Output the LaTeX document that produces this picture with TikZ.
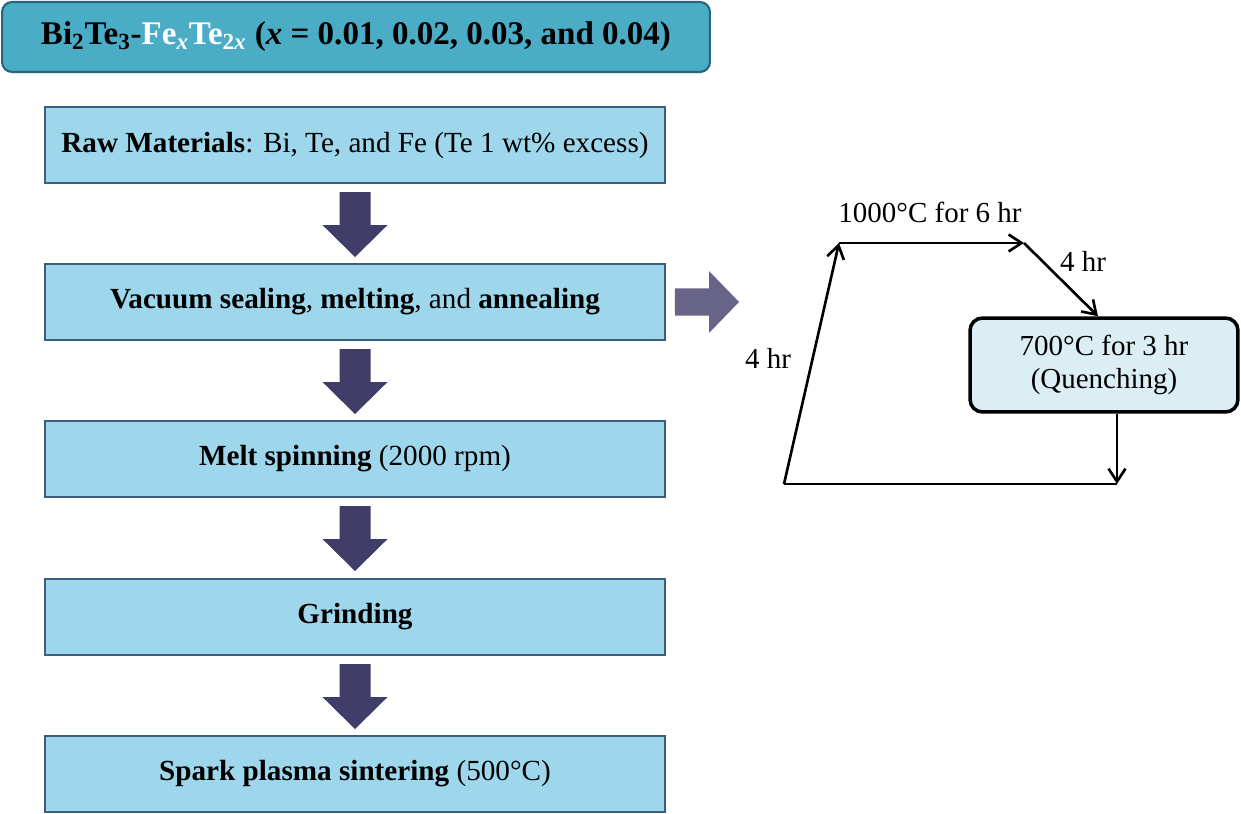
\documentclass[tikz,border=0pt]{standalone}
\usepackage{fontspec}
\setmainfont{Liberation Serif}
\usetikzlibrary{arrows.meta}

\definecolor{titleteal}{RGB}{75,172,198}
\definecolor{titleedge}{RGB}{40,100,125}
\definecolor{boxblue}{RGB}{158,214,236}
\definecolor{boxedge}{RGB}{59,94,128}
\definecolor{fatnavy}{RGB}{64,62,104}
\definecolor{fatgrey}{RGB}{104,100,136}
\definecolor{holdblue}{RGB}{219,238,244}

\tikzset{
	titlebox/.style={draw=titleedge, line width=1.2pt, fill=titleteal, rounded corners=0.2cm,
		minimum width=14.16cm, minimum height=1.4cm, font=\bfseries\fontsize{18.8}{22}\selectfont},
	stepbox/.style={draw=boxedge, line width=1.2pt, fill=boxblue, minimum width=12.4cm,
		minimum height=1.52cm, font=\fontsize{16.6}{19}\selectfont},
	holdbox/.style={draw=black, line width=2pt, fill=holdblue, rounded corners=0.25cm, align=center,
		minimum width=5.36cm, minimum height=1.88cm, font=\fontsize{16.5}{18.7}\selectfont},
	timelabel/.style={font=\fontsize{16.5}{18.7}\selectfont},
	ramp/.style={line width=1.5pt, -{Straight Barb[length=0.26cm, width=0.34cm]}}
}

\begin{document}
\begin{tikzpicture}[x=0.02cm, y=-0.02cm]
	\useasboundingbox (0,0) rectangle (1241,814);
	\node[titlebox] (title) at (356,37) {Bi\textsubscript{2}Te\textsubscript{3}-\textcolor{white}{Fe\textsubscript{\textit{x}}Te\textsubscript{2\textit{x}}} (\textit{x} = 0.01, 0.02, 0.03, and 0.04)};
	% process steps
	\node[stepbox] (raw) at (355,145) {\textbf{Raw Materials}: Bi, Te, and Fe (Te 1 wt\% excess)};
	\node[stepbox] (vac) at (355,302) {\textbf{Vacuum sealing}, \textbf{melting}, and \textbf{annealing}};
	\node[stepbox] (melt) at (355,459) {\textbf{Melt spinning} (2000 rpm)};
	\node[stepbox] (grind) at (355,617) {\textbf{Grinding}};
	\node[stepbox] (sps) at (355,774) {\textbf{Spark plasma sintering} (500°C)};
	\foreach \a in {raw, vac, melt, grind}
		\fill[fatnavy] (\a.south) ++(-15.5,8) -- ++(31,0) -- ++(0,33) -- ++(17,0) -- ++(-32.5,32) -- ++(-32.5,-32) -- ++(17,0) -- cycle;
	\fill[fatgrey] (vac.east) ++(9,-13.5) -- ++(34,0) -- ++(0,-17.5) -- ++(30,31) -- ++(-30,31) -- ++(0,-17.5) -- ++(-34,0) -- cycle;
	% heat treatment profile
	\coordinate (t0) at (784,484);
	\coordinate (t1) at (839,243);
	\coordinate (t2) at (1024,243);
	\coordinate (t3) at (1117,484);
	\node[holdbox] (quench) at (1104,365) {700°C for 3 hr\\(Quenching)};
	\draw[ramp] (t0) -- (t1);
	\draw[ramp] (t1) -- (t2);
	\draw[ramp] (t2) -- ([xshift=-0.12cm]quench.north);
	\draw[ramp] (quench.south -| t3) -- (t3);
	\draw[line width=1.5pt] (t0) -- (t3);
	\node[timelabel] (hold) at (930,212) {1000°C for 6 hr};
	\node[timelabel] (cool) at (1083,261) {4 hr};
	\node[timelabel] (heat) at (768,358) {4 hr};
\end{tikzpicture}
\end{document}
